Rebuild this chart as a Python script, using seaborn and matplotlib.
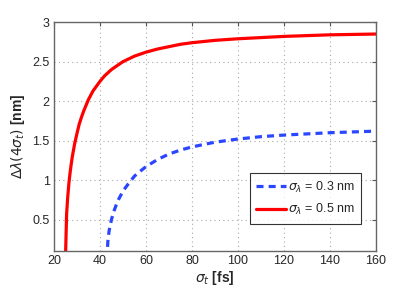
import numpy as np
import pandas as pd
import matplotlib
matplotlib.use("Agg")
import matplotlib.pyplot as plt
import seaborn as sns

# Datos (sigma_t en fs, delta lambda en nm)
t_03 = [43, 43.5, 44, 44.5, 45, 46, 47, 48, 50, 52, 55, 57, 60, 65, 70, 75, 80, 85, 90, 100, 110, 120, 140, 160]
dl_03 = [0.0, 0.25, 0.36, 0.43, 0.50, 0.60, 0.68, 0.75, 0.86, 0.94, 1.05, 1.10, 1.17, 1.26, 1.33, 1.38,
         1.42, 1.45, 1.48, 1.52, 1.55, 1.57, 1.60, 1.62]

t_05 = [25, 25.5, 26, 26.5, 27, 27.5, 28, 29, 30, 31, 32, 33, 35, 37, 40, 42, 45, 47, 50, 55, 60, 65,
        70, 75, 80, 90, 100, 120, 140, 160]
dl_05 = [0.0, 0.57, 0.79, 0.96, 1.09, 1.20, 1.30, 1.46, 1.59, 1.71, 1.80, 1.88, 2.02, 2.13, 2.25, 2.32,
         2.40, 2.44, 2.50, 2.57, 2.62, 2.66, 2.69, 2.72, 2.74, 2.77, 2.79, 2.82, 2.84, 2.85]

labels = [r"$\sigma_\lambda$ = 0.3 nm", r"$\sigma_\lambda$ = 0.5 nm"]
x_ticks = [20, 40, 60, 80, 100, 120, 140, 160]
y_ticks = [0.5, 1, 1.5, 2, 2.5, 3]

df = pd.concat([
    pd.DataFrame({"t": t_03, "dl": dl_03, "serie": labels[0]}),
    pd.DataFrame({"t": t_05, "dl": dl_05, "serie": labels[1]}),
])

sns.set_style("white")
plt.rcParams['font.family'] = ['Liberation Sans', 'DejaVu Sans']
plt.rcParams['mathtext.fontset'] = 'dejavusans'

fig = plt.figure(figsize=(4.15, 2.92), dpi=100)
ax = fig.add_axes([0.130, 0.140, 0.776, 0.784])

sns.lineplot(data=df, x="t", y="dl", hue="serie", style="serie",
             palette=["#2a46ff", "#ff0000"],
             dashes=[(2.2, 1.6), ""], linewidth=2.3, sort=False, ax=ax)

ax.set_xlim(20, 160)
ax.set_ylim(0.1, 3)
ax.set_xticks(x_ticks)
ax.set_yticks(y_ticks)
ax.set_yticklabels(["0.5", "1", "1.5", "2", "2.5", "3"])
ax.tick_params(direction="in", length=3, top=True, right=True, labelsize=9,
               color="#555555", pad=3)
ax.grid(True, linestyle=(0, (1, 3)), color="#aaaaaa", linewidth=0.8)
for s in ax.spines.values():
    s.set_color("#666666")
    s.set_linewidth(1.0)

ax.set_xlabel(r"$\sigma_t$ [fs]", fontsize=10, fontweight="bold", labelpad=1)
ax.set_ylabel(r"$\Delta\lambda(4\sigma_t)$ [nm]", fontsize=10, fontweight="bold", labelpad=4)

leg = ax.legend(loc="lower right", bbox_to_anchor=(0.955, 0.12), fontsize=9,
                frameon=True, fancybox=False, handlelength=2.4, borderpad=0.5,
                labelspacing=0.6, handletextpad=0.2, borderaxespad=0)
leg.get_frame().set_edgecolor("black")
leg.get_frame().set_linewidth(0.8)

fig.savefig("out.png", dpi=100)
